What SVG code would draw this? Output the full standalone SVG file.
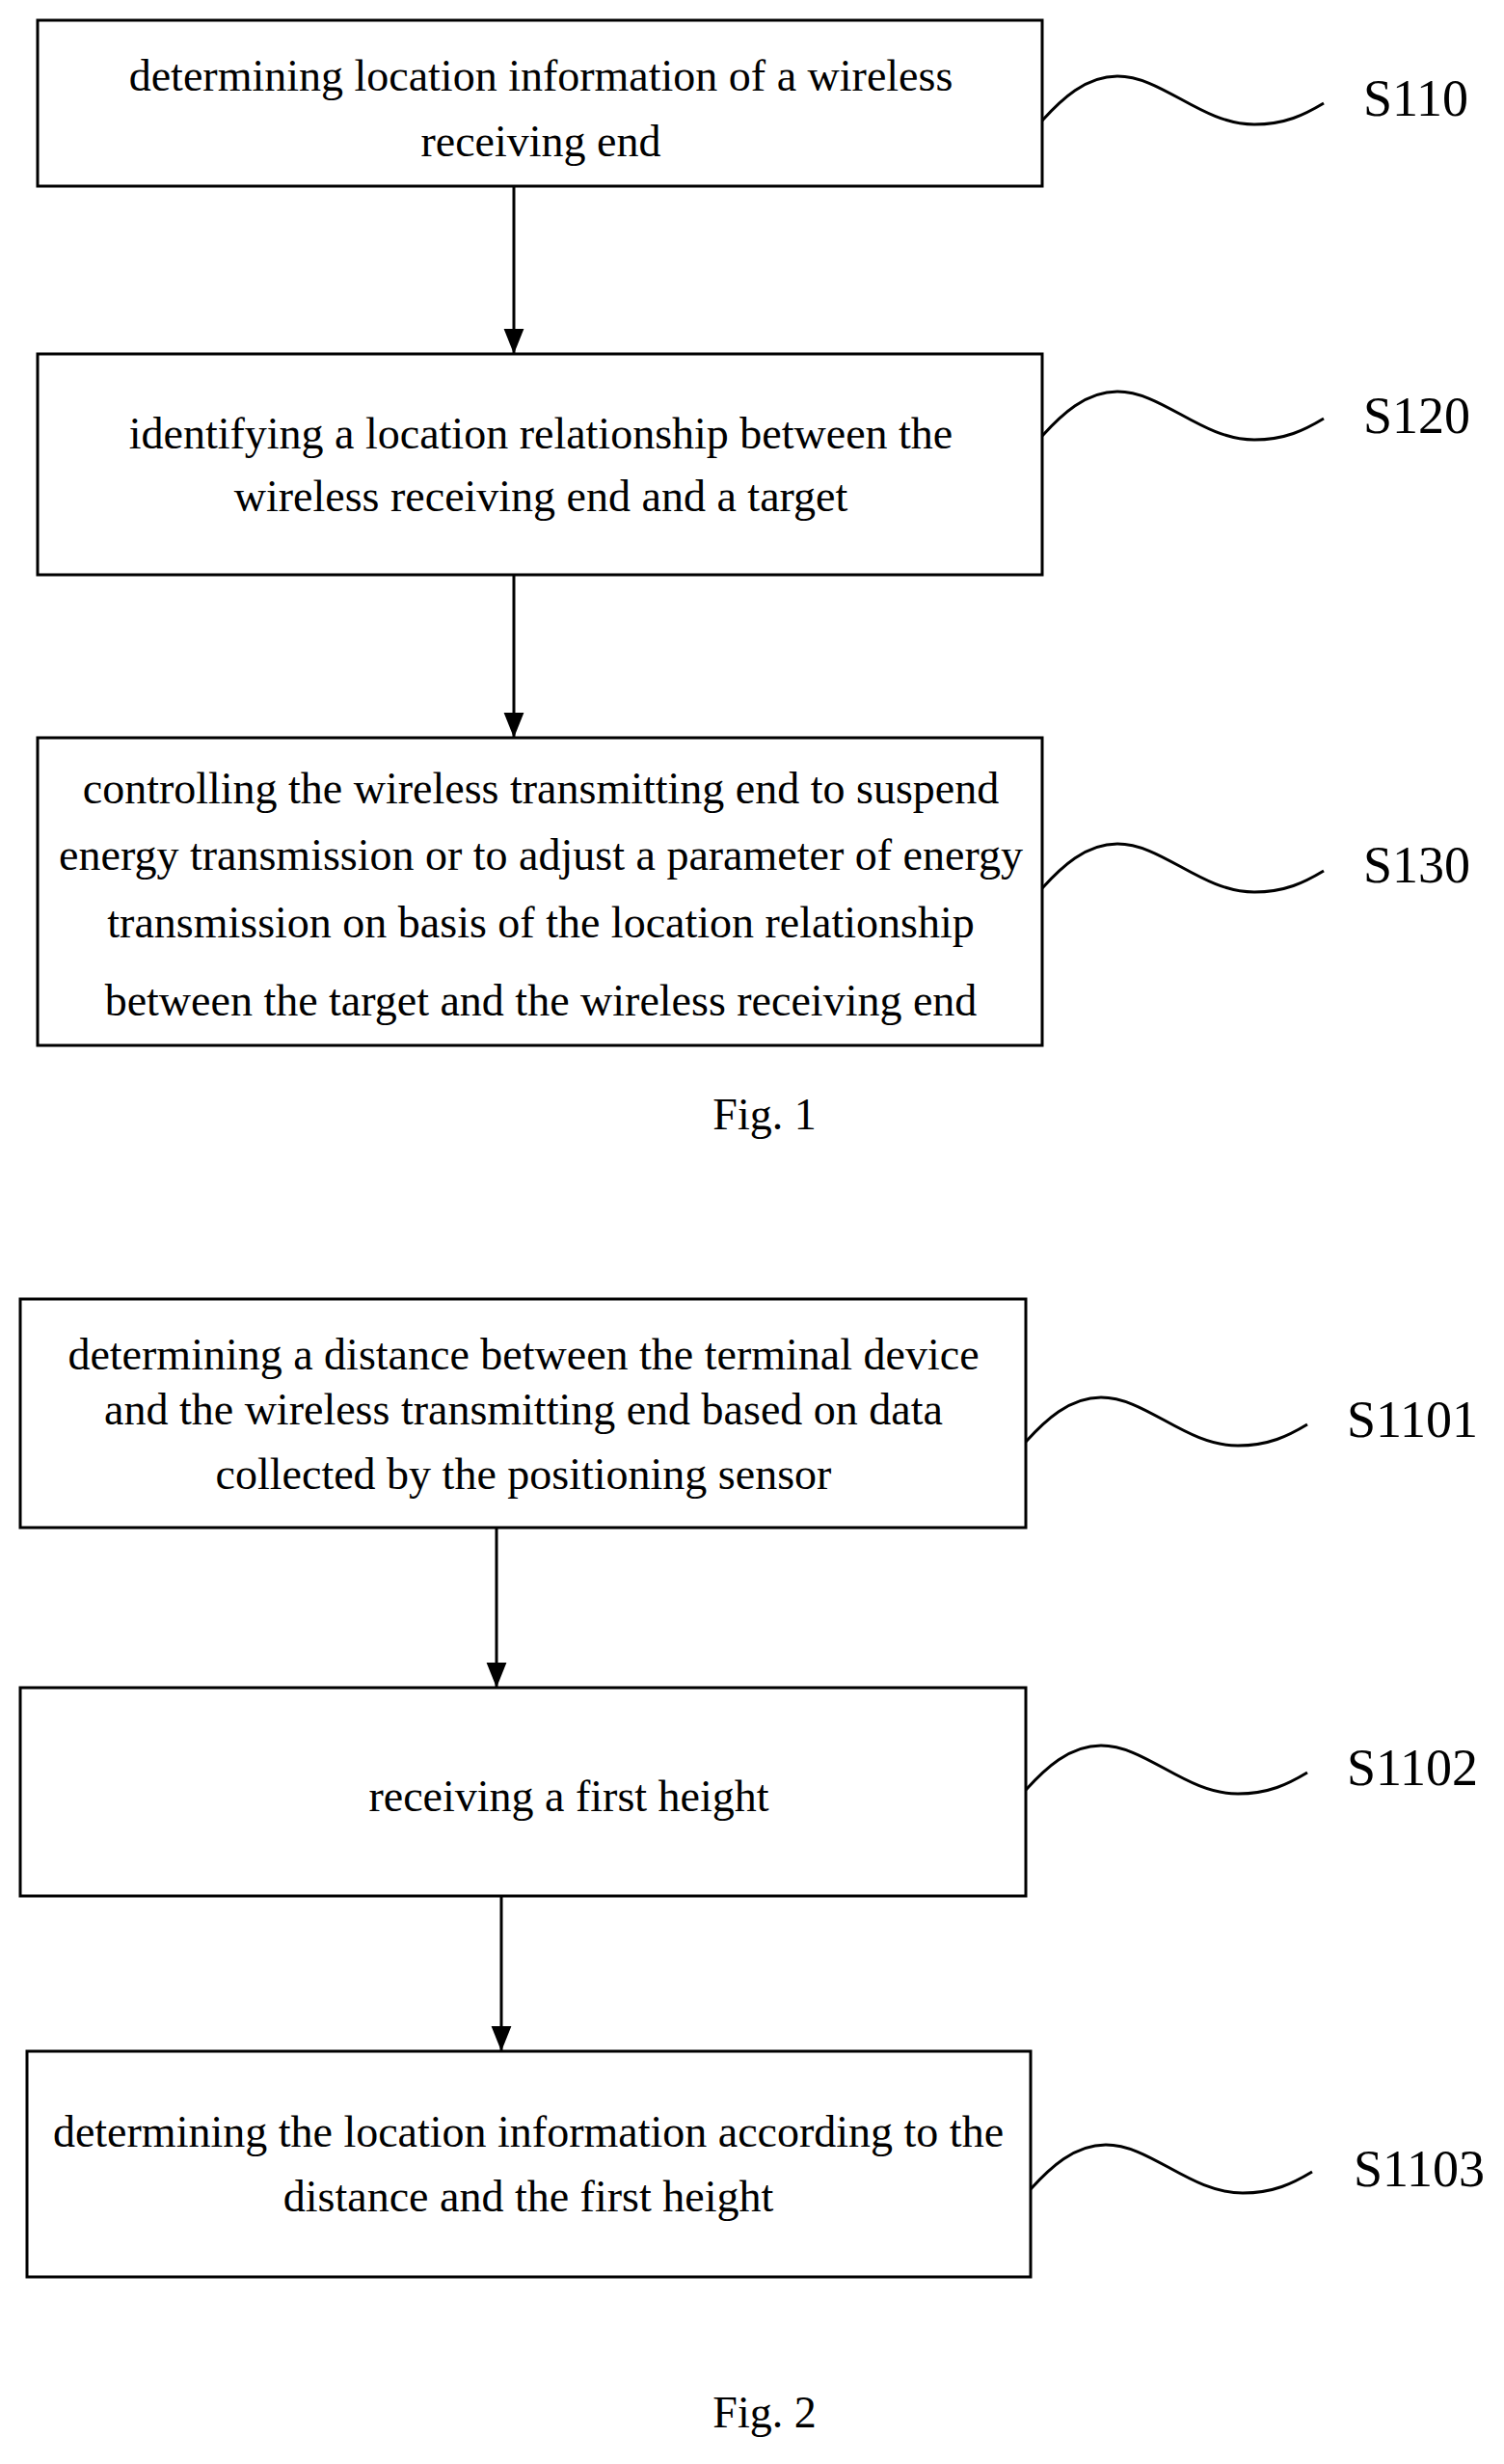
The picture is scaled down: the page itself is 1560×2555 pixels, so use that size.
<svg xmlns="http://www.w3.org/2000/svg" width="1560" height="2555" viewBox="0 0 1560 2555">
<style>
.b{fill:#fff;stroke:#000;stroke-width:3}
.t{font-family:"Liberation Serif",serif;font-size:46px;text-anchor:middle;fill:#000}
.l{font-family:"Liberation Serif",serif;font-size:54px;fill:#000}
.w{fill:none;stroke:#000;stroke-width:3}
</style>
<defs>
<marker id="a2" viewBox="0 0 10 10" refX="10" refY="5" markerWidth="26" markerHeight="26" orient="auto" markerUnits="userSpaceOnUse"><path d="M0,1 L10,5 L0,9 z"/></marker>
<path id="wv" class="w" d="M0,0 C20,-22 45,-46 78,-46 C125,-46 165,4 220,4 C252,4 272,-6 292,-18"/>
</defs>
<rect width="1560" height="2555" fill="#fff"/>
<g id="connectors">
<line x1="533" y1="193" x2="533" y2="367" stroke="#000" stroke-width="3" marker-end="url(#a2)"/>
<line x1="533" y1="596" x2="533" y2="765" stroke="#000" stroke-width="3" marker-end="url(#a2)"/>
<line x1="515" y1="1584" x2="515" y2="1750" stroke="#000" stroke-width="3" marker-end="url(#a2)"/>
<line x1="520" y1="1966" x2="520" y2="2127" stroke="#000" stroke-width="3" marker-end="url(#a2)"/>
</g>
<g id="S110"><rect class="b" x="39" y="21" width="1042" height="172"/>
<text class="t" x="561" y="94">determining location information of a wireless</text>
<text class="t" x="561" y="162">receiving end</text>
<use href="#wv" x="1081" y="125"/><text class="l" x="1414" y="120">S110</text></g>
<g id="S120"><rect class="b" x="39" y="367" width="1042" height="229"/>
<text class="t" x="561" y="465">identifying a location relationship between the</text>
<text class="t" x="561" y="530">wireless receiving end and a target</text>
<use href="#wv" x="1081" y="452"/><text class="l" x="1414" y="449">S120</text></g>
<g id="S130"><rect class="b" x="39" y="765" width="1042" height="319"/>
<text class="t" x="561" y="833">controlling the wireless transmitting end to suspend</text>
<text class="t" x="561" y="902">energy transmission or to adjust a parameter of energy</text>
<text class="t" x="561" y="972">transmission on basis of the location relationship</text>
<text class="t" x="561" y="1053">between the target and the wireless receiving end</text>
<use href="#wv" x="1081" y="921"/><text class="l" x="1414" y="915">S130</text></g>
<text class="t" x="793" y="1171">Fig. 1</text>
<g id="S1101"><rect class="b" x="21" y="1347" width="1043" height="237"/>
<text class="t" x="543" y="1420">determining a distance between the terminal device</text>
<text class="t" x="543" y="1477">and the wireless transmitting end based on data</text>
<text class="t" x="543" y="1544">collected by the positioning sensor</text>
<use href="#wv" x="1064" y="1495"/><text class="l" x="1397" y="1490">S1101</text></g>
<g id="S1102"><rect class="b" x="21" y="1750" width="1043" height="216"/>
<text class="t" x="590" y="1878">receiving a first height</text>
<use href="#wv" x="1064" y="1856"/><text class="l" x="1397" y="1851">S1102</text></g>
<g id="S1103"><rect class="b" x="28" y="2127" width="1041" height="234"/>
<text class="t" x="548" y="2226">determining the location information according to the</text>
<text class="t" x="548" y="2293">distance and the first height</text>
<use href="#wv" x="1069" y="2270"/><text class="l" x="1404" y="2267">S1103</text></g>
<text class="t" x="793" y="2517">Fig. 2</text>
</svg>
